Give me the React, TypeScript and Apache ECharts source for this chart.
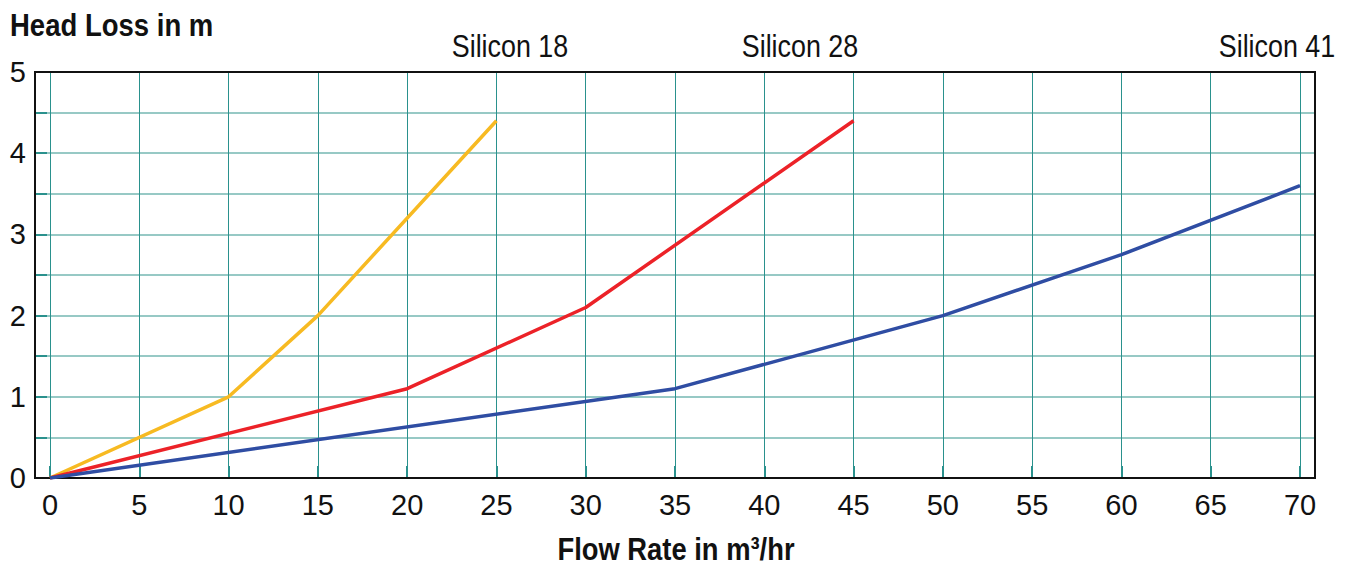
import React, { useEffect, useRef } from "react";
import * as echarts from "echarts";

const flowTicks = [0, 5, 10, 15, 20, 25, 30, 35, 40, 45, 50, 55, 60, 65, 70];
const silicon18 = [
  [0, 0],
  [10, 1.0],
  [15, 2.0],
  [25, 4.4],
];
const silicon28 = [
  [0, 0],
  [20, 1.1],
  [30, 2.1],
  [45, 4.4],
];
const silicon41 = [
  [0, 0],
  [35, 1.1],
  [50, 2.0],
  [60, 2.75],
  [70, 3.6],
];
const seriesNames = ["Silicon 18", "Silicon 28", "Silicon 41"];
const seriesColors = ["#F7BA22", "#EC2228", "#2F4DA3"];

const FONT = "'Liberation Sans', Arial, Helvetica, sans-serif";
const GRID_V = "#2a918d";
const GRID_H = "#74b7b2";

export default function App() {
  const ref = useRef<HTMLDivElement>(null);
  useEffect(() => {
    if (!ref.current) return;
    const chart = echarts.init(ref.current, null, { renderer: "svg" });
    const datasets = [silicon18, silicon28, silicon41];
    const titleText = (text: string, x: number, y: number, bold: boolean, sx: number, align = "center") => ({
      type: "text",
      x,
      y,
      scaleX: sx,
      style: {
        text,
        fontFamily: FONT,
        fontWeight: bold ? "bold" : "normal",
        fontSize: 32,
        fill: "#111",
        align,
        verticalAlign: "middle",
      },
    });
    chart.setOption({
      animation: false,
      backgroundColor: "#ffffff",
      grid: [
        {
          left: 35,
          right: 37,
          top: 72,
          bottom: 88,
          show: true,
          borderColor: "#111",
          borderWidth: 2,
          backgroundColor: "transparent",
          z: 3,
        },
        { left: 50, right: 52, top: 72, bottom: 88 },
      ],
      xAxis: [
        { gridIndex: 0, type: "value", min: 0, max: 1, show: false },
        {
          gridIndex: 1,
          type: "value",
          min: 0,
          max: 70,
          interval: 5,
          axisLine: { show: false },
          axisTick: { show: true, inside: true, length: 12, lineStyle: { color: GRID_V, width: 2 } },
          axisLabel: {
            color: "#111",
            fontFamily: FONT,
            fontSize: 29,
            margin: 12,
            formatter: (v: number) => (flowTicks.includes(v) ? String(v) : ""),
          },
          splitLine: { show: true, lineStyle: { color: GRID_V, width: 1 } },
        },
      ],
      yAxis: [
        {
          gridIndex: 0,
          type: "value",
          min: 0,
          max: 5,
          interval: 0.5,
          axisLine: { show: false },
          axisTick: { show: true, inside: true, length: 12, lineStyle: { color: GRID_V, width: 2 } },
          axisLabel: {
            color: "#111",
            fontFamily: FONT,
            fontSize: 29,
            margin: 9,
            formatter: (v: number) => (Number.isInteger(v) ? String(v) : ""),
          },
          splitLine: { show: true, lineStyle: { color: GRID_H, width: 1.5 } },
        },
        { gridIndex: 1, type: "value", min: 0, max: 5, show: false },
      ],
      graphic: [
        titleText("Head Loss in m", 10, 25, true, 0.86, "left"),
        titleText(seriesNames[0], 510, 46, false, 0.84),
        titleText(seriesNames[1], 800, 46, false, 0.84),
        titleText(seriesNames[2], 1277, 46, false, 0.84),
        titleText("Flow Rate in m³/hr", 676, 549, true, 0.855),
      ],
      series: datasets.map((d, i) => ({
        name: seriesNames[i],
        type: "line",
        xAxisIndex: 1,
        yAxisIndex: 1,
        data: d,
        symbol: "none",
        z: 4,
        lineStyle: { color: seriesColors[i], width: 3.5 },
      })),
    });
    return () => chart.dispose();
  }, []);
  return <div ref={ref} style={{ position: "fixed", left: 0, top: 0, width: 1352, height: 566 }} />;
}
